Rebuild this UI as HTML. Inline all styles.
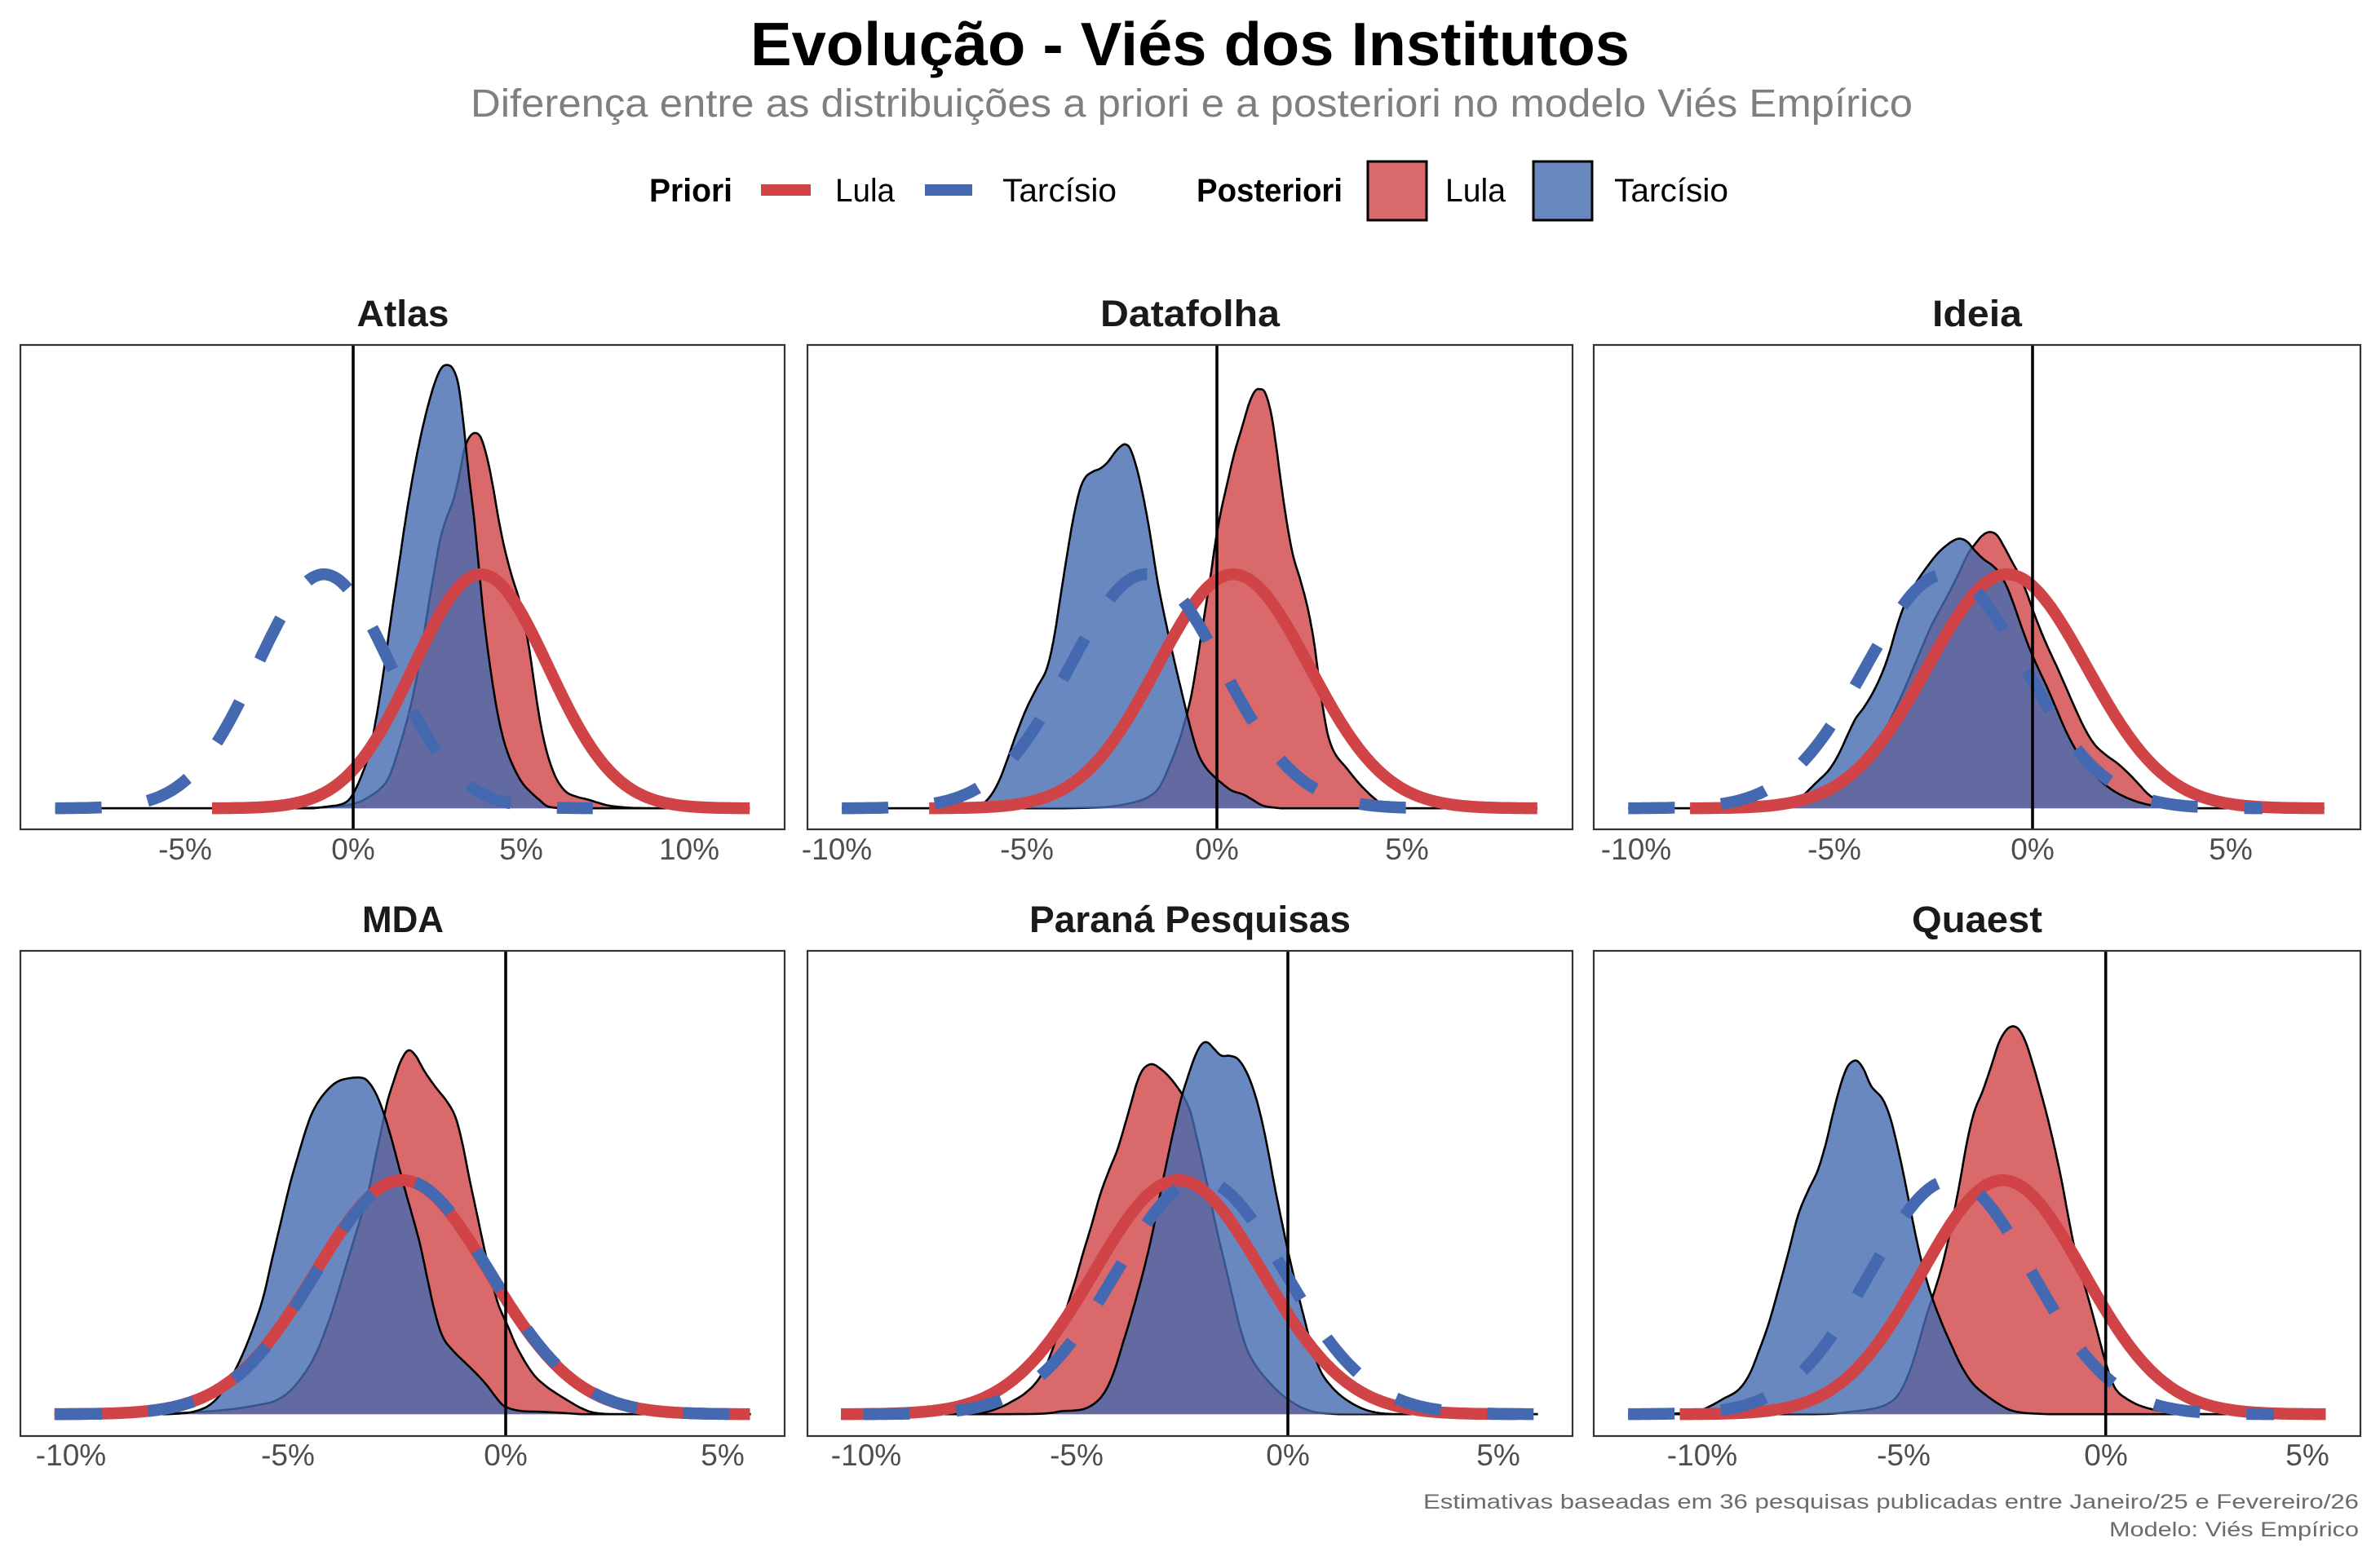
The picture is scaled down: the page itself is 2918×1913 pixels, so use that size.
<!DOCTYPE html>
<html>
<head>
<meta charset="utf-8">
<style>
html,body{margin:0;padding:0;background:#fff;}
svg{display:block;}
text{font-family:"Liberation Sans",Arial,sans-serif;}
</style>
</head>
<body>
<svg id="c" xmlns="http://www.w3.org/2000/svg" width="2918" height="1913" viewBox="0 0 2918 1913">
<rect x="0" y="0" width="2918" height="1913" fill="#ffffff"/>

<!-- Title / subtitle -->
<text x="920" y="80" font-size="75" font-weight="bold" fill="#000" textLength="1078" lengthAdjust="spacingAndGlyphs">Evolução - Viés dos Institutos</text>
<text x="577" y="143" font-size="48" fill="#7f7f7f" textLength="1768" lengthAdjust="spacingAndGlyphs">Diferença entre as distribuições a priori e a posteriori no modelo Viés Empírico</text>

<!-- Legend -->
<text x="796" y="247" font-size="40" font-weight="bold" fill="#000" textLength="102" lengthAdjust="spacingAndGlyphs">Priori</text>
<line x1="933" y1="233" x2="994" y2="233" stroke="#d04448" stroke-width="14"/>
<text x="1024" y="247" font-size="40" fill="#000" textLength="73" lengthAdjust="spacingAndGlyphs">Lula</text>
<line x1="1134" y1="233" x2="1192" y2="233" stroke="#4469b0" stroke-width="14"/>
<text x="1229" y="247" font-size="40" fill="#000" textLength="140" lengthAdjust="spacingAndGlyphs">Tarcísio</text>
<text x="1467" y="247" font-size="40" font-weight="bold" fill="#000" textLength="179" lengthAdjust="spacingAndGlyphs">Posteriori</text>
<rect x="1677" y="198" width="72" height="72" fill="rgb(208,67,69)" fill-opacity="0.8" stroke="#000" stroke-width="3"/>
<text x="1772" y="247" font-size="40" fill="#000" textLength="74" lengthAdjust="spacingAndGlyphs">Lula</text>
<rect x="1880" y="198" width="72" height="72" fill="rgb(69,106,176)" fill-opacity="0.8" stroke="#000" stroke-width="3"/>
<text x="1979" y="247" font-size="40" fill="#000" textLength="140" lengthAdjust="spacingAndGlyphs">Tarcísio</text>

<!-- Strip titles -->
<text x="494" y="400" font-size="45" font-weight="bold" fill="#1a1a1a" text-anchor="middle" textLength="113" lengthAdjust="spacingAndGlyphs">Atlas</text>
<text x="1459" y="400" font-size="45" font-weight="bold" fill="#1a1a1a" text-anchor="middle" textLength="220" lengthAdjust="spacingAndGlyphs">Datafolha</text>
<text x="2424" y="400" font-size="45" font-weight="bold" fill="#1a1a1a" text-anchor="middle" textLength="110" lengthAdjust="spacingAndGlyphs">Ideia</text>
<text x="494" y="1143" font-size="45" font-weight="bold" fill="#1a1a1a" text-anchor="middle" textLength="100" lengthAdjust="spacingAndGlyphs">MDA</text>
<text x="1459" y="1143" font-size="45" font-weight="bold" fill="#1a1a1a" text-anchor="middle" textLength="394" lengthAdjust="spacingAndGlyphs">Paraná Pesquisas</text>
<text x="2424" y="1143" font-size="45" font-weight="bold" fill="#1a1a1a" text-anchor="middle" textLength="160" lengthAdjust="spacingAndGlyphs">Quaest</text>

<!-- Plot contents (generated) -->
<g id="plots"></g>

<!-- Panel borders -->
<g fill="none" stroke="#333333" stroke-width="2.2">
<rect x="25" y="423" width="937" height="594"/>
<rect x="990" y="423" width="938" height="594"/>
<rect x="1954" y="423" width="940" height="594"/>
<rect x="25" y="1166" width="937" height="595"/>
<rect x="990" y="1166" width="938" height="595"/>
<rect x="1954" y="1166" width="940" height="595"/>
</g>

<!-- Tick labels row 1 -->
<g font-size="37" fill="#4d4d4d" text-anchor="middle">
<text x="227" y="1054">-5%</text>
<text x="433" y="1054">0%</text>
<text x="639" y="1054">5%</text>
<text x="845" y="1054">10%</text>
<text x="1026" y="1054">-10%</text>
<text x="1259" y="1054">-5%</text>
<text x="1492" y="1054">0%</text>
<text x="1725" y="1054">5%</text>
<text x="2006" y="1054">-10%</text>
<text x="2249" y="1054">-5%</text>
<text x="2492" y="1054">0%</text>
<text x="2735" y="1054">5%</text>
<!-- row 2 -->
<text x="87" y="1797">-10%</text>
<text x="353" y="1797">-5%</text>
<text x="620" y="1797">0%</text>
<text x="886" y="1797">5%</text>
<text x="1062" y="1797">-10%</text>
<text x="1320" y="1797">-5%</text>
<text x="1579" y="1797">0%</text>
<text x="1837" y="1797">5%</text>
<text x="2087" y="1797">-10%</text>
<text x="2334" y="1797">-5%</text>
<text x="2582" y="1797">0%</text>
<text x="2829" y="1797">5%</text>
</g>

<!-- Caption -->
<text x="2892" y="1850" font-size="25" fill="#6b6b6b" text-anchor="end" textLength="1147" lengthAdjust="spacingAndGlyphs">Estimativas baseadas em 36 pesquisas publicadas entre Janeiro/25 e Fevereiro/26</text>
<text x="2892" y="1884" font-size="25" fill="#6b6b6b" text-anchor="end" textLength="306" lengthAdjust="spacingAndGlyphs">Modelo: Viés Empírico</text>
</svg>

<script>
(function(){
var F1=594/1568, F2=660/1568;
var P=[
 {zero:433, sc:41.2, mr:3.8, mb:-0.87, zx:26, fx:936/1568, zy:423, fy:F1, bz:1500,
  blue:[[600,1500],[630,1494],[655,1488],[672,1474],[686,1440],[700,1390],[715,1320],[730,1200],[745,1050],[760,880],[775,720],[790,560],[805,420],[820,300],[835,200],[850,120],[863,75],[875,65],[887,78],[898,130],[908,250],[918,400],[930,560],[940,720],[950,880],[962,1030],[977,1180],[992,1285],[1008,1355],[1028,1415],[1048,1450],[1066,1475],[1082,1494],[1110,1500]],
  red:[[560,1500],[620,1497],[660,1492],[690,1482],[712,1465],[735,1440],[755,1400],[775,1310],[795,1200],[812,1080],[826,950],[838,830],[850,720],[862,620],[875,555],[888,500],[900,420],[910,340],[920,300],[932,285],[944,300],[956,360],[968,450],[980,560],[993,660],[1008,750],[1022,820],[1035,910],[1045,1000],[1055,1110],[1066,1220],[1080,1320],[1098,1400],[1118,1445],[1140,1462],[1165,1472],[1185,1482],[1210,1492],[1250,1498],[1300,1500]]},
 {zero:1492, sc:46.6, mr:0.43, mb:-1.87, zx:990, fx:938/1568, zy:423, fy:F1, bz:1500,
  blue:[[330,1500],[355,1490],[375,1460],[393,1410],[410,1340],[428,1260],[448,1180],[470,1110],[490,1050],[505,950],[518,820],[532,680],[545,560],[558,470],[570,428],[585,410],[600,400],[615,380],[630,348],[642,328],[652,322],[662,338],[675,400],[688,490],[702,610],[717,760],[732,880],[750,1010],[768,1130],[785,1240],[800,1320],[815,1365],[832,1395],[850,1420],[870,1443],[893,1455],[912,1472],[935,1492],[970,1500]],
  red:[[520,1500],[600,1497],[640,1490],[675,1478],[700,1462],[722,1430],[745,1350],[762,1280],[775,1210],[786,1140],[796,1050],[806,950],[816,850],[826,750],[836,640],[846,550],[860,450],[875,350],[890,270],[905,190],[917,150],[927,143],[938,155],[950,220],[960,320],[970,440],[982,570],[995,680],[1010,760],[1025,850],[1038,960],[1048,1080],[1058,1190],[1068,1270],[1082,1325],[1105,1370],[1128,1415],[1148,1448],[1165,1472],[1182,1492],[1210,1500]]},
 {zero:2492, sc:48.6, mr:-0.64, mb:-2.2, zx:1954, fx:940/1568, zy:423, fy:F2, bz:1350,
  blue:[[380,1350],[405,1340],[430,1310],[455,1275],[480,1240],[500,1195],[518,1140],[535,1090],[553,1055],[572,1010],[590,955],[605,895],[618,830],[632,770],[648,720],[665,680],[685,640],[705,605],[725,580],[740,567],[752,565],[765,575],[780,600],[798,625],[815,642],[830,665],[845,705],[860,760],[877,830],[893,890],[910,945],[928,1000],[946,1060],[964,1120],[982,1170],[1000,1210],[1020,1245],[1045,1280],[1070,1305],[1100,1325],[1130,1338],[1165,1347],[1200,1350]],
  red:[[330,1350],[380,1347],[420,1340],[460,1322],[500,1295],[535,1255],[570,1190],[600,1110],[630,1020],[660,920],[690,820],[720,740],[745,670],[765,610],[780,580],[795,555],[810,545],[825,555],[840,590],[855,630],[870,670],[885,720],[900,780],[915,835],[930,885],[948,940],[965,995],[985,1060],[1005,1120],[1025,1165],[1048,1195],[1072,1220],[1095,1250],[1115,1280],[1135,1310],[1158,1330],[1185,1342],[1230,1350]]},
 {zero:620, sc:53.3, mr:-2.38, mb:-2.36, zx:26, fx:936/1568, zy:1166, fy:F2, bz:1350,
  blue:[[300,1350],[340,1346],[365,1338],[388,1322],[410,1290],[440,1220],[468,1130],[495,1020],[515,900],[535,780],[552,680],[568,600],[585,520],[600,465],[620,420],[645,385],[670,372],[700,370],[715,385],[730,420],[745,475],[760,545],[775,625],[790,705],[805,780],[820,860],[835,960],[850,1055],[866,1125],[887,1165],[912,1200],[937,1235],[956,1265],[972,1295],[988,1322],[1005,1334],[1030,1341],[1070,1343],[1110,1346],[1150,1350]],
  red:[[250,1350],[320,1347],[400,1340],[450,1332],[490,1322],[520,1312],[550,1285],[580,1235],[605,1175],[625,1105],[640,1045],[655,975],[670,905],[685,835],[700,765],[715,690],[728,600],[740,520],[752,440],[765,380],[780,320],[795,290],[810,305],[828,350],[850,395],[875,440],[892,485],[906,560],[920,660],[935,760],[950,860],[965,950],[980,1030],[1000,1095],[1020,1160],[1050,1230],[1075,1265],[1100,1290],[1125,1312],[1150,1332],[1175,1345],[1210,1350]]},
 {zero:1579, sc:51.7, mr:-2.6, mb:-2.07, zx:990, fx:938/1568, zy:1166, fy:F2, bz:1350,
  blue:[[400,1350],[470,1349],[500,1346],[522,1341],[548,1339],[568,1334],[587,1320],[603,1298],[617,1265],[631,1215],[645,1150],[660,1080],[675,1005],[690,925],[705,835],[720,730],[735,625],[750,525],[765,435],[780,365],[795,305],[808,272],[820,267],[833,285],[848,305],[866,306],[882,315],[898,348],[913,400],[928,475],[943,575],[958,690],[973,795],[988,895],[1003,985],[1018,1070],[1033,1150],[1052,1225],[1073,1268],[1095,1298],[1118,1320],[1140,1335],[1165,1345],[1200,1350]],
  red:[[300,1350],[360,1345],[395,1330],[420,1312],[445,1290],[470,1255],[490,1205],[510,1130],[530,1045],[550,955],[565,880],[582,800],[600,710],[618,640],[635,580],[650,510],[662,450],[675,385],[688,345],[705,330],[722,342],[740,365],[757,395],[772,428],[785,470],[797,540],[810,620],[825,720],[840,820],[855,910],[870,1000],[885,1090],[902,1165],[922,1215],[945,1255],[968,1288],[990,1312],[1015,1332],[1045,1345],[1090,1350]]},
 {zero:2581.7, sc:49.5, mr:-2.55, mb:-3.83, zx:1954, fx:940/1568, zy:1166, fy:F2, bz:1350,
  blue:[[120,1350],[180,1347],[215,1340],[240,1325],[265,1305],[295,1280],[318,1235],[338,1165],[358,1085],[378,985],[398,880],[418,770],[438,700],[458,640],[475,560],[490,470],[505,390],[518,340],[530,322],[540,322],[552,345],[568,395],[590,430],[605,480],[618,550],[632,640],[646,740],[660,840],[675,930],[692,1010],[712,1085],[732,1150],[752,1210],[775,1260],[800,1292],[828,1320],[852,1338],[880,1346],[930,1350]],
  red:[[400,1350],[480,1349],[530,1342],[568,1335],[598,1322],[622,1295],[642,1240],[660,1165],[678,1075],[695,1000],[712,920],[730,810],[748,680],[763,560],[778,470],[795,410],[812,340],[828,270],[843,232],[857,220],[870,230],[884,268],[898,330],[912,400],[927,480],[942,570],[957,670],[970,770],[984,870],[999,950],[1015,1030],[1030,1110],[1045,1190],[1060,1255],[1072,1285],[1090,1305],[1112,1322],[1135,1333],[1165,1342],[1210,1348],[1260,1350]]}
];

function cr(pts,n){
  var out=[];
  for(var i=0;i<pts.length-1;i++){
    var p0=pts[Math.max(i-1,0)],p1=pts[i],p2=pts[i+1],p3=pts[Math.min(i+2,pts.length-1)];
    for(var k=0;k<n;k++){
      var t=k/n,t2=t*t,t3=t2*t;
      var f=function(a,b,c,d){return 0.5*((2*b)+(-a+c)*t+(2*a-5*b+4*c-d)*t2+(-a+3*b-3*c+d)*t3);};
      out.push([f(p0[0],p1[0],p2[0],p3[0]),f(p0[1],p1[1],p2[1],p3[1])]);
    }
  }
  out.push(pts[pts.length-1]);
  return out;
}
function r(v){return Math.round(v*10)/10;}

var s='';
var PRIOR_H=287;
P.forEach(function(p){
  var base=p.zy+p.bz*p.fy;
  var xmin=p.zero+(Math.min(p.mr,p.mb)-8)*p.sc;
  var xmax=p.zero+(Math.max(p.mr,p.mb)+8)*p.sc;
  function post(list,color){
    var pts=list.map(function(q){return [p.zx+q[0]*p.fx, p.zy+q[1]*p.fy];});
    var sm=cr(pts,8);
    var d='M'+r(xmin)+','+r(base)+' L'+r(Math.max(xmin,pts[0][0]-0))+','+r(base);
    sm.forEach(function(q){var y=Math.min(q[1],base);d+=' L'+r(q[0])+','+r(y);});
    d+=' L'+r(xmax)+','+r(base);
    s+='<path d="'+d+' Z" fill="'+color+'" fill-opacity="0.8" stroke="none"/>';
    s+='<path d="'+d+'" fill="none" stroke="#000" stroke-width="2.6" stroke-linejoin="round"/>';
  }
  post(p.red,'rgb(208,67,69)');
  post(p.blue,'rgb(69,106,176)');
  function prior(mu,color,dash){
    var d='';
    var N=320;
    for(var i=0;i<=N;i++){
      var z=-4+8*i/N;
      var x=p.zero+(mu+2*z)*p.sc;
      var y=base-PRIOR_H*Math.exp(-z*z/2);
      d+=(i===0?'M':' L')+r(x)+','+r(y);
    }
    s+='<path d="'+d+'" fill="none" stroke="'+color+'" stroke-width="14.5" stroke-linecap="butt" stroke-linejoin="round"'+(dash?' stroke-dasharray="57 57"':'')+'/>';
  }
  prior(p.mr,'#d04448',false);
  prior(p.mb,'#4469b0',true);
  var top=(p.zy===423)?423:1166, bot=(p.zy===423)?1017:1761;
  s+='<line x1="'+p.zero+'" y1="'+top+'" x2="'+p.zero+'" y2="'+bot+'" stroke="#000" stroke-width="3.6"/>';
});
document.getElementById('plots').innerHTML=s;
})();
</script>
</body>
</html>
